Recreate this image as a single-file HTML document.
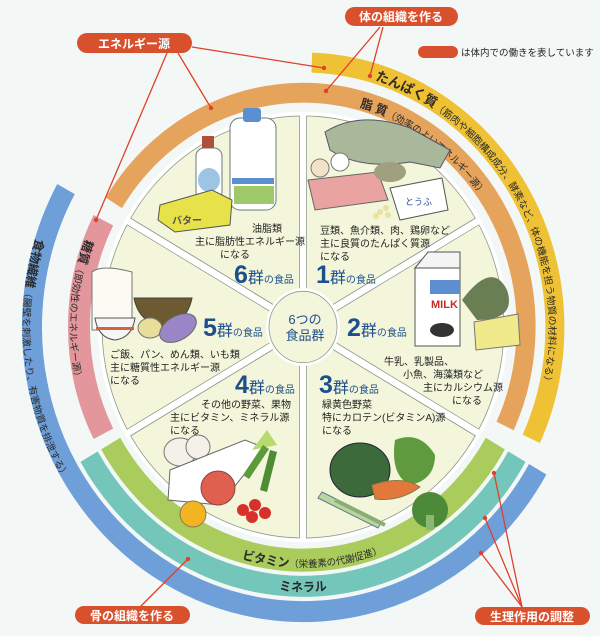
<!DOCTYPE html>
<html><head><meta charset="utf-8"><style>
html,body{margin:0;padding:0;background:#f3f8f7;}
svg{display:block;font-family:"Liberation Sans","Noto Sans CJK JP",sans-serif;}
</style></head><body>
<svg width="600" height="636" viewBox="0 0 600 636" xmlns="http://www.w3.org/2000/svg">
<rect width="600" height="636" fill="#f3f8f7"/>
<g transform="translate(303,327) scale(1,1.05)">
  <path d="M234.7,135.5 A271,271 0 0 1 -135.5,234.7 A271,271 0 0 1 -237.0,-131.4" fill="none" stroke="#6e9fd9" stroke-width="20"/>
  <path d="M213.9,123.5 A247,247 0 0 1 -213.9,123.5" fill="none" stroke="#74c5ba" stroke-width="20"/>
  <path d="M192.3,111 A222,222 0 0 1 -192.3,111" fill="none" stroke="#a9cc5c" stroke-width="22"/>
  <path d="M-189.1,-118.2 A223,223 0 0 1 202.1,94.3" fill="none" stroke="#e6a35c" stroke-width="19"/>
  <path d="M8.8,-251.8 A252,252 0 0 1 228.3,106.5" fill="none" stroke="#efc135" stroke-width="19"/>
  <path d="M-199.6,101.7 A224,224 0 0 1 -199.6,-101.7" fill="none" stroke="#e3979c" stroke-width="22"/>
  <circle r="205" fill="#ffffff"/>
  <circle r="201" fill="#f3f6da" stroke="#8e9a8e" stroke-width="0.8"/>
  <g stroke="#8e9a8e" stroke-width="8">
    <line x1="0" y1="0" x2="0" y2="-201"/><line x1="0" y1="0" x2="0" y2="201"/>
    <line x1="0" y1="0" x2="174" y2="-100.5"/><line x1="0" y1="0" x2="174" y2="100.5"/>
    <line x1="0" y1="0" x2="-174" y2="-100.5"/><line x1="0" y1="0" x2="-174" y2="100.5"/>
  </g>
  <g stroke="#ffffff" stroke-width="6.4">
    <line x1="0" y1="0" x2="0" y2="-203"/><line x1="0" y1="0" x2="0" y2="203"/>
    <line x1="0" y1="0" x2="176" y2="-101.5"/><line x1="0" y1="0" x2="176" y2="101.5"/>
    <line x1="0" y1="0" x2="-176" y2="-101.5"/><line x1="0" y1="0" x2="-176" y2="101.5"/>
  </g>
  <circle r="37" fill="#ffffff"/>
  <circle r="34" fill="#f3f6da" stroke="#8e9a8e" stroke-width="0.8"/>
  <defs>
    <path id="pP" d="M17.2,-245.4 A246,246 0 0 1 228.1,92.2"/>
    <path id="pF" d="M45.1,-212.3 A217,217 0 0 1 217,0"/>
    <path id="pS" d="M-214.5,-91.0 A233,233 0 0 0 -211.2,98.5"/>
    <path id="pB" d="M-263.1,-95.8 A280,280 0 0 0 -172.4,220.6"/>
    <path id="pV" d="M-198.3,114.5 A229,229 0 0 0 198.3,114.5"/>
    <path id="pM" d="M-218.2,126 A252,252 0 0 0 218.2,126"/>
  </defs>
  <g fill="#2a2a2a">
  <text font-size="9.5"><textPath href="#pP" startOffset="56"><tspan font-size="13" font-weight="bold">たんぱく質</tspan>（筋肉や細胞構成成分、酵素など、体の機能を担う物質の材料になる）</textPath></text>
  <text font-size="9.5"><textPath href="#pF" startOffset="12"><tspan font-size="12" font-weight="bold">脂 質</tspan>（効率のよいエネルギー源）</textPath></text>
  <text font-size="9.5"><textPath href="#pS" startOffset="8"><tspan font-size="12" font-weight="bold">糖質</tspan>（即効性のエネルギー源）</textPath></text>
  <text font-size="9.5"><textPath href="#pB" startOffset="12"><tspan font-size="12" font-weight="bold">食物繊維</tspan>（腸壁を刺激したり、有害物質を排泄する）</textPath></text>
  <text font-size="9.5" text-anchor="middle"><textPath href="#pV" startOffset="52%"><tspan font-size="12" font-weight="bold">ビタミン</tspan>（栄養素の代謝促進）</textPath></text>
  <text font-size="12" font-weight="bold" text-anchor="middle"><textPath href="#pM" startOffset="50%">ミネラル</textPath></text>
  </g>
</g>

<text x="305" y="324" font-size="13" fill="#1d4f8c" text-anchor="middle">6つの</text>
<text x="305" y="340" font-size="13" fill="#1d4f8c" text-anchor="middle">食品群</text>

<rect x="230" y="118" width="46" height="92" rx="10" fill="#ffffff" stroke="#6a7a80" stroke-width="1"/>
<rect x="243" y="108" width="18" height="14" rx="3" fill="#5a8fd0"/>
<rect x="232" y="178" width="42" height="6" fill="#5a8fd0"/>
<rect x="234" y="186" width="40" height="18" fill="#9ec86a"/>
<rect x="196" y="148" width="26" height="52" rx="8" fill="#ffffff" stroke="#6a7a80"/>
<rect x="202" y="136" width="12" height="12" fill="#b0503a"/>
<ellipse cx="209" cy="180" rx="11" ry="12" fill="#9cc4e4"/>
<polygon points="160,205 212,190 232,200 230,225 175,232 158,220" fill="#e8e24a" stroke="#555"/>
<text x="172" y="224" font-size="10" font-weight="bold" fill="#555">バター</text>
<path d="M325,132 Q360,110 410,128 L450,150 L440,168 L410,162 Q360,170 330,150 Z" fill="#a9b89a" stroke="#556"/>
<circle cx="320" cy="168" r="9" fill="#f1e2c8" stroke="#777"/>
<circle cx="340" cy="162" r="9" fill="#ffffff" stroke="#777"/>
<polygon points="308,180 378,172 388,200 315,210" fill="#e9a3a0" stroke="#666"/>
<ellipse cx="390" cy="172" rx="16" ry="10" fill="#a0a080"/>
<polygon points="390,188 442,178 448,210 400,220" fill="#ffffff" stroke="#555"/>
<text x="405" y="205" font-size="9" fill="#2850a0">とうふ</text>
<g fill="#e7e2a0"><circle cx="380" cy="212" r="3"/><circle cx="386" cy="208" r="3"/><circle cx="388" cy="215" r="3"/><circle cx="376" cy="216" r="3"/></g>
<path d="M92,272 q10,-8 40,0 v58 h-40 z" fill="#fbfbf4" stroke="#777"/>
<path d="M134,298 h58 q-5,25 -29,28 q-24,-3 -29,-28 z" fill="#6d5a30" stroke="#444"/>
<path d="M95,318 h40 q-3,20 -20,22 q-17,-2 -20,-22z" fill="#f6f6f6" stroke="#555"/>
<rect x="96" y="327" width="38" height="3" fill="#d86040"/>
<ellipse cx="150" cy="328" rx="12" ry="10" fill="#e6de9a" stroke="#777"/>
<ellipse cx="178" cy="328" rx="20" ry="12" fill="#9a86c6" stroke="#666" transform="rotate(-30 178 328)"/>
<path d="M462,300 q30,-40 45,-10 q10,30 -30,30 z" fill="#6a7e54"/>
<rect x="415" y="268" width="45" height="78" fill="#ffffff" stroke="#555"/>
<polygon points="415,268 428,252 460,252 460,268" fill="#f4f4f4" stroke="#555"/>
<rect x="430" y="280" width="30" height="14" fill="#5d8fd0"/>
<text x="431" y="308" font-size="11" font-weight="bold" fill="#c0302a">MILK</text>
<ellipse cx="442" cy="330" rx="12" ry="7" fill="#333"/>
<polygon points="474,322 518,314 520,345 476,350" fill="#f1ea8c" stroke="#777"/>
<ellipse cx="180" cy="452" rx="16" ry="14" fill="#f4f2e8" stroke="#777"/>
<ellipse cx="198" cy="447" rx="12" ry="12" fill="#f4f2e8" stroke="#777"/>
<polygon points="170,470 245,440 265,448 220,505 168,500" fill="#ffffff" stroke="#666"/>
<path d="M252,450 l15,-20 l10,15 z" fill="#b8d870"/>
<path d="M243,475 l20,-30 l6,4 l-20,30z" fill="#5c9a3c"/>
<path d="M260,490 l10,-40 l7,2 l-10,40z" fill="#4f8d34"/>
<circle cx="218" cy="488" r="17" fill="#e06050" stroke="#844"/>
<circle cx="193" cy="514" r="13" fill="#f2b420" stroke="#875"/>
<g fill="#d8302a"><circle cx="243" cy="510" r="6"/><circle cx="255" cy="505" r="6"/><circle cx="265" cy="513" r="6"/><circle cx="252" cy="517" r="6"/></g>
<ellipse cx="360" cy="470" rx="30" ry="27" fill="#3c6a3a" stroke="#223"/>
<path d="M395,440 q25,-10 40,15 q0,25 -25,30 q-20,-10 -15,-45z" fill="#5f9a3e"/>
<path d="M372,485 q30,-10 48,2 q-20,15 -45,12z" fill="#e2783a" stroke="#874"/>
<circle cx="430" cy="510" r="18" fill="#4d8a38"/>
<rect x="426" y="515" width="8" height="15" fill="#8ab870"/>
<path d="M322,492 l60,30 l-4,6 l-60,-30z" fill="#b8d6a0" stroke="#678"/>
<path d="M335,500 l50,25" stroke="#8aae76" stroke-width="4"/>

<g font-size="10" fill="#222">
  <text x="252" y="232">油脂類</text>
  <text x="195" y="245">主に脂肪性エネルギー源</text>
  <text x="220" y="258">になる</text>
  <text x="320" y="234">豆類、魚介類、肉、鶏卵など</text>
  <text x="320" y="247">主に良質のたんぱく質源</text>
  <text x="320" y="260">になる</text>
  <text x="110" y="358">ご飯、パン、めん類、いも類</text>
  <text x="110" y="371">主に糖質性エネルギー源</text>
  <text x="110" y="384">になる</text>
  <text x="384" y="365">牛乳、乳製品、</text>
  <text x="403" y="378">小魚、海藻類など</text>
  <text x="423" y="391">主にカルシウム源</text>
  <text x="452" y="404">になる</text>
  <text x="201" y="408">その他の野菜、果物</text>
  <text x="170" y="421">主にビタミン、ミネラル源</text>
  <text x="170" y="434">になる</text>
  <text x="322" y="408">緑黄色野菜</text>
  <text x="322" y="421">特にカロテン(ビタミンA)源</text>
  <text x="322" y="434">になる</text>
</g>
<g fill="#1d4f8c" font-weight="bold">
  <text x="234" y="283" font-size="25">6<tspan font-size="16" font-weight="normal">群</tspan><tspan font-size="10" font-weight="normal">の食品</tspan></text>
  <text x="316" y="283" font-size="25">1<tspan font-size="16" font-weight="normal">群</tspan><tspan font-size="10" font-weight="normal">の食品</tspan></text>
  <text x="203" y="336" font-size="25">5<tspan font-size="16" font-weight="normal">群</tspan><tspan font-size="10" font-weight="normal">の食品</tspan></text>
  <text x="347" y="336" font-size="25">2<tspan font-size="16" font-weight="normal">群</tspan><tspan font-size="10" font-weight="normal">の食品</tspan></text>
  <text x="235" y="393" font-size="25">4<tspan font-size="16" font-weight="normal">群</tspan><tspan font-size="10" font-weight="normal">の食品</tspan></text>
  <text x="319" y="393" font-size="25">3<tspan font-size="16" font-weight="normal">群</tspan><tspan font-size="10" font-weight="normal">の食品</tspan></text>
</g>

<g stroke="#e0402a" stroke-width="1.3" fill="none">
  <line x1="192" y1="47" x2="324" y2="68"/>
  <line x1="178" y1="53" x2="211" y2="108"/>
  <line x1="167" y1="53" x2="96" y2="220"/>
  <line x1="383" y1="27" x2="370" y2="76"/>
  <line x1="380" y1="27" x2="326" y2="91"/>
  <line x1="140" y1="607" x2="188" y2="559"/>
  <line x1="522" y1="607" x2="494" y2="473"/>
  <line x1="522" y1="607" x2="485" y2="518"/>
  <line x1="522" y1="607" x2="481" y2="553"/>
</g>
<g fill="#e0402a">
  <circle cx="324" cy="68" r="2.2"/><circle cx="211" cy="108" r="2.2"/><circle cx="96" cy="220" r="2.2"/>
  <circle cx="370" cy="76" r="2.2"/><circle cx="326" cy="91" r="2.2"/><circle cx="188" cy="559" r="2.2"/>
  <circle cx="494" cy="473" r="2.2"/><circle cx="485" cy="518" r="2.2"/><circle cx="481" cy="553" r="2.2"/>
</g>

<g fill="#d9502d">
  <rect x="77" y="33" width="115" height="20" rx="10"/>
  <rect x="345" y="7" width="113" height="19" rx="9.5"/>
  <rect x="418" y="46" width="40" height="12" rx="6"/>
  <rect x="75" y="606" width="115" height="18" rx="9"/>
  <rect x="475" y="607" width="115" height="18" rx="9"/>
</g>
<g fill="#ffffff" font-size="12" font-weight="bold" text-anchor="middle">
  <text x="134" y="48">エネルギー源</text>
  <text x="401" y="21">体の組織を作る</text>
  <text x="132" y="620">骨の組織を作る</text>
  <text x="532" y="621">生理作用の調整</text>
</g>
<text x="461" y="56" font-size="9.5" fill="#222">は体内での働きを表しています</text>
</svg>
</body></html>
